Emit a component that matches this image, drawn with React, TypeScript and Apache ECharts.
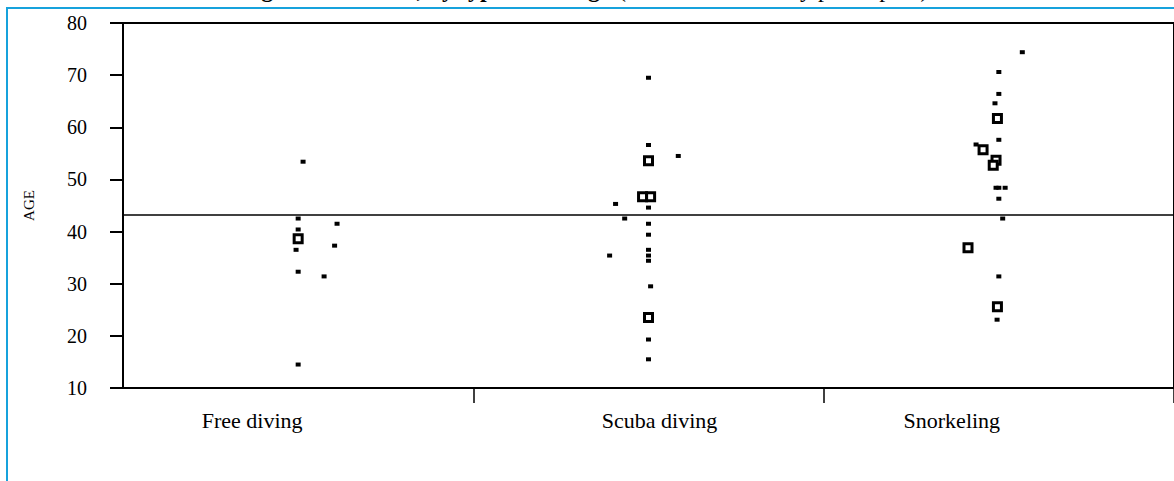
import React, { useEffect, useRef } from "react";
import * as echarts from "echarts";

const categories = ["Free diving", "Scuba diving", "Snorkeling"];
const yTicks = { min: 10, max: 80, interval: 10 };
const meanAge = 43.2;

// [horizontal jitter (category units), age] — single participants
const freeDivingSingle: [number, number][] = [
  [0.014, 53.4], [0.0, 42.5], [0.111, 41.5], [0.0, 40.4], [-0.006, 36.5],
  [0.104, 37.3], [0.0, 32.3], [0.074, 31.4], [0.0, 14.5],
];
const scubaSingle: [number, number][] = [
  [0.0, 69.5], [0.0, 56.6], [0.085, 54.5], [-0.094, 45.3], [0.0, 44.6],
  [-0.068, 42.5], [0.0, 41.5], [0.0, 39.4], [0.0, 36.5], [-0.111, 35.4],
  [0.0, 35.4], [0.0, 34.4], [0.006, 29.5], [0.0, 19.3], [0.0, 15.5],
];
const snorkelingSingle: [number, number][] = [
  [0.067, 74.4], [0.0, 70.6], [0.0, 66.4], [-0.011, 64.6], [0.0, 57.6],
  [-0.065, 56.7], [-0.008, 48.4], [0.0, 48.4], [0.018, 48.4], [0.0, 46.3],
  [0.011, 42.5], [0.0, 31.4], [-0.005, 23.1],
];
// several participants at the same place
const freeDivingMulti: [number, number][] = [[0.0, 38.6]];
const scubaMulti: [number, number][] = [
  [0.0, 53.6], [-0.017, 46.7], [0.006, 46.7], [0.0, 23.5],
];
const snorkelingMulti: [number, number][] = [
  [-0.004, 61.7], [-0.045, 55.7], [-0.008, 53.7], [-0.016, 52.7],
  [-0.088, 36.9], [-0.004, 25.6],
];

const singles = [freeDivingSingle, scubaSingle, snorkelingSingle];
const multis = [freeDivingMulti, scubaMulti, snorkelingMulti];

const labelShift = ["a", "b", "c"];

export default function App() {
  const ref = useRef<HTMLDivElement>(null);
  useEffect(() => {
    if (!ref.current) return;
    const chart = echarts.init(ref.current, undefined, { renderer: "svg" });
    const toPts = (groups: [number, number][][]) =>
      groups.flatMap((g, ci) => g.map(([j, a]) => [ci + j, a]));
    const serif = "Liberation Serif";
    const lbl = { fontFamily: serif, fontSize: 22, color: "#000" };
    chart.setOption({
      animation: false,
      backgroundColor: "#ffffff",
      grid: {
        left: 123,
        top: 23,
        right: -3.5,
        bottom: 93,
        show: true,
        borderColor: "#000",
        borderWidth: 2,
        backgroundColor: "transparent",
      },
      xAxis: [
        {
          type: "category",
          data: categories,
          boundaryGap: true,
          axisLine: { lineStyle: { color: "#000", width: 2 } },
          axisTick: {
            show: true,
            length: 15,
            interval: (index: number) => index !== 0,
            lineStyle: { color: "#000", width: 1.5 },
          },
          axisLabel: {
            margin: 21,
            color: "#000",
            formatter: (v: string) => {
              const i = categories.indexOf(v);
              return `{${labelShift[i]}|${v}}`;
            },
            rich: {
              a: { ...lbl, padding: [0, 92, 0, 0] },
              b: { ...lbl, padding: [0, 0, 0, 22] },
              c: { ...lbl, padding: [0, 94, 0, 0] },
            },
          },
          splitLine: { show: false },
        },
        {
          type: "value",
          min: -0.5,
          max: 2.5,
          show: false,
        },
      ],
      yAxis: {
        type: "value",
        min: yTicks.min,
        max: yTicks.max,
        interval: yTicks.interval,
        name: "AGE",
        nameLocation: "middle",
        nameGap: 87,
        nameRotate: 90,
        nameTextStyle: { fontFamily: serif, fontSize: 15, color: "#000" },
        axisLine: { show: true, onZero: false, lineStyle: { color: "#000", width: 2 } },
        axisTick: { show: true, length: 13, lineStyle: { color: "#000", width: 2 } },
        axisLabel: { margin: 36, fontFamily: serif, fontSize: 20, color: "#000" },
        splitLine: { show: false },
      },
      series: [
        {
          name: "Participant",
          type: "scatter",
          xAxisIndex: 1,
          symbol: "rect",
          symbolSize: [5, 4],
          itemStyle: { color: "#000", opacity: 1 },
          data: toPts(singles),
          markLine: {
            silent: true,
            symbol: "none",
            label: { show: false },
            lineStyle: { color: "#000", width: 1.5, type: "solid" },
            data: [{ yAxis: meanAge }],
          },
        },
        {
          name: "Several participants",
          type: "scatter",
          xAxisIndex: 1,
          symbol: "rect",
          symbolSize: 8,
          itemStyle: { color: "#fff", borderColor: "#000", borderWidth: 3, opacity: 1 },
          data: toPts(multis),
        },
      ],
      graphic: [
        {
          type: "rect",
          silent: true,
          shape: { x: 7, y: 8, width: 1200, height: 500 },
          style: { fill: "none", stroke: "#17a2dc", lineWidth: 2 },
          z: 10,
        },
        {
          type: "text",
          x: 600,
          y: 1,
          style: {
            text: "Age of the divers, by type of diving",
            font: `bold 24px "${serif}"`,
            fill: "#000",
            textAlign: "right",
            textVerticalAlign: "bottom",
          },
        },
        {
          type: "text",
          x: 618,
          y: 1,
          style: {
            text: "(one mark drawn by participant)",
            font: `24px "${serif}"`,
            fill: "#000",
            textAlign: "left",
            textVerticalAlign: "bottom",
          },
        },
      ],
    });
    return () => chart.dispose();
  }, []);
  return (
    <div
      ref={ref}
      style={{ position: "fixed", left: 0, top: 0, width: 1174, height: 481, overflow: "hidden" }}
    />
  );
}
